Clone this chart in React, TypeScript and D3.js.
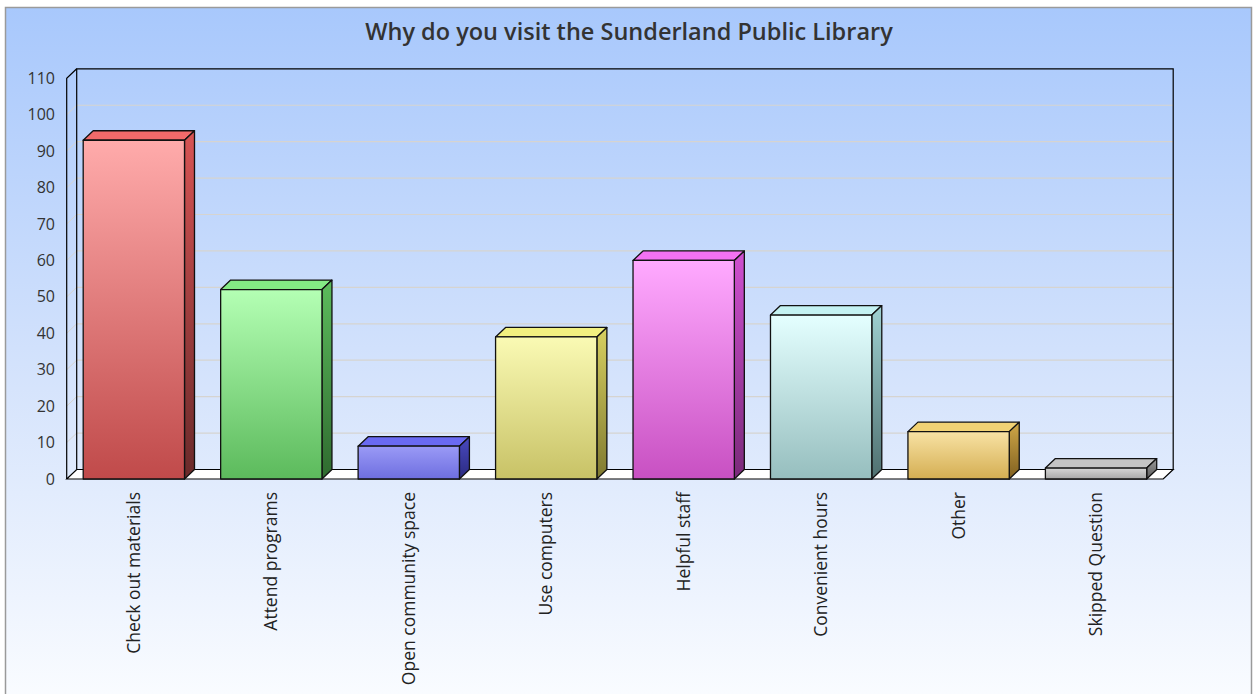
import React from "react";
import * as d3 from "d3";

const title = "Why do you visit the Sunderland Public Library";
const categories = [
  "Check out materials",
  "Attend programs",
  "Open community space",
  "Use computers",
  "Helpful staff",
  "Convenient hours",
  "Other",
  "Skipped Question",
];
const values = [93, 52, 9, 39, 60, 45, 13, 3];
const yTicks = [0, 10, 20, 30, 40, 50, 60, 70, 80, 90, 100, 110];
// [frontTop, frontBottom, top, sideTop, sideBottom]
const palette = [
  ["#ffabab", "#c04a4a", "#f26a6a", "#d85454", "#6a2a2a"],
  ["#b4ffb4", "#5cba5c", "#84ea84", "#5cbc5c", "#2f6a2f"],
  ["#9a9af6", "#6e6ee0", "#6a6af2", "#4a4ac0", "#2a2a80"],
  ["#fafab4", "#c8c266", "#f2f080", "#d8d060", "#807a30"],
  ["#ffaaff", "#c850c2", "#f472f2", "#d050d0", "#7a2a7a"],
  ["#e4ffff", "#96bebe", "#c4f2f2", "#a0d2d2", "#4f7070"],
  ["#f8e2a4", "#d4ae52", "#f2d274", "#d0a848", "#806020"],
  ["#d6d6d6", "#a8a8a8", "#c4c4c4", "#9a9a9a", "#5a5a5a"],
];

const W = 1258;
const H = 694;
const DX = 10;
const DY = 9.5;
const front = { left: 66.7, right: 1163.2, top: 78.3, bottom: 479 };

export default function App() {
  const y = d3.scaleLinear().domain([0, 110]).range([front.bottom, front.top]);
  const x = d3
    .scaleBand<string>()
    .domain(categories)
    .range([front.left, front.right])
    .paddingInner(0.263)
    .paddingOuter(0.12);
  const bw = x.bandwidth();
  const font = "'Open Sans', 'Noto Sans', sans-serif";
  const backTop = front.top - DY;
  const backBottom = front.bottom - DY;
  const backLeft = front.left + DX;
  const backRight = front.right + DX;

  return (
    <svg
      width={W}
      height={H}
      style={{ position: "absolute", left: 0, top: 0 }}
      xmlns="http://www.w3.org/2000/svg"
    >
      <defs>
        <linearGradient id="bg" x1="0" y1="0" x2="0" y2="1">
          <stop offset="0" stopColor="#a8c8fc" />
          <stop offset="0.55" stopColor="#d6e4fc" />
          <stop offset="1" stopColor="#fafcff" />
        </linearGradient>
        {palette.map((p, i) => (
          <React.Fragment key={i}>
            <linearGradient id={`f${i}`} x1="0" y1="0" x2="0" y2="1">
              <stop offset="0" stopColor={p[0]} />
              <stop offset="1" stopColor={p[1]} />
            </linearGradient>
            <linearGradient id={`s${i}`} x1="0" y1="0" x2="0" y2="1">
              <stop offset="0" stopColor={p[3]} />
              <stop offset="1" stopColor={p[4]} />
            </linearGradient>
          </React.Fragment>
        ))}
      </defs>
      <rect x={0} y={0} width={W} height={H} fill="#ffffff" />
      <rect x={5.5} y={7.5} width={1246} height={H} fill="url(#bg)" stroke="#9a9a9a" strokeWidth={1.5} />
      <text x={629} y={40} textAnchor="middle" fontFamily={font} fontWeight={600} fontSize={23.5} fill="#333">
        {title}
      </text>

      {/* floor */}
      <polygon
        points={`${front.left},${front.bottom} ${front.right},${front.bottom} ${backRight},${backBottom} ${backLeft},${backBottom}`}
        fill="#ffffff"
        stroke="#000"
        strokeWidth={1.2}
      />
      {/* gridlines */}
      {yTicks.slice(1, -1).map((t) => (
        <g key={t}>
          <line x1={backLeft} x2={backRight} y1={y(t) - DY} y2={y(t) - DY} stroke="#d6d4d0" strokeWidth={1.2} />
          <line x1={front.left} x2={backLeft} y1={y(t)} y2={y(t) - DY} stroke="#d6d4d0" strokeWidth={1} />
        </g>
      ))}
      {/* walls */}
      <path
        d={`M${backLeft},${backBottom} V${backTop} H${backRight} V${backBottom}`}
        fill="none"
        stroke="#000"
        strokeWidth={1.2}
      />
      <path
        d={`M${front.left},${front.bottom} V${front.top} L${backLeft},${backTop}`}
        fill="none"
        stroke="#000"
        strokeWidth={1.2}
      />
      {/* y tick labels */}
      {yTicks.map((t) => (
        <text key={t} x={55} y={y(t)} dy="0.35em" textAnchor="end" fontFamily={font} fontSize={16} fill="#333">
          {t}
        </text>
      ))}
      {/* bars */}
      {categories.map((c, i) => {
        const x0 = x(c)!;
        const x1 = x0 + bw;
        const yt = y(values[i]);
        const yb = y(0);
        return (
          <g key={c} stroke="#111" strokeWidth={1.3} strokeLinejoin="round">
            <polygon
              points={`${x0},${yt} ${x0 + DX},${yt - DY} ${x1 + DX},${yt - DY} ${x1},${yt}`}
              fill={palette[i][2]}
            />
            <polygon
              points={`${x1},${yt} ${x1 + DX},${yt - DY} ${x1 + DX},${yb - DY} ${x1},${yb}`}
              fill={`url(#s${i})`}
            />
            <rect x={x0} y={yt} width={bw} height={yb - yt} fill={`url(#f${i})`} />
          </g>
        );
      })}
      {/* category labels */}
      {categories.map((c) => {
        const cx = x(c)! + bw / 2;
        return (
          <text
            key={c}
            transform={`translate(${cx},${492}) rotate(-90)`}
            textAnchor="end"
            dy="0.35em"
            fontFamily={font}
            fontSize={17.5}
            fill="#222"
          >
            {c}
          </text>
        );
      })}
    </svg>
  );
}
